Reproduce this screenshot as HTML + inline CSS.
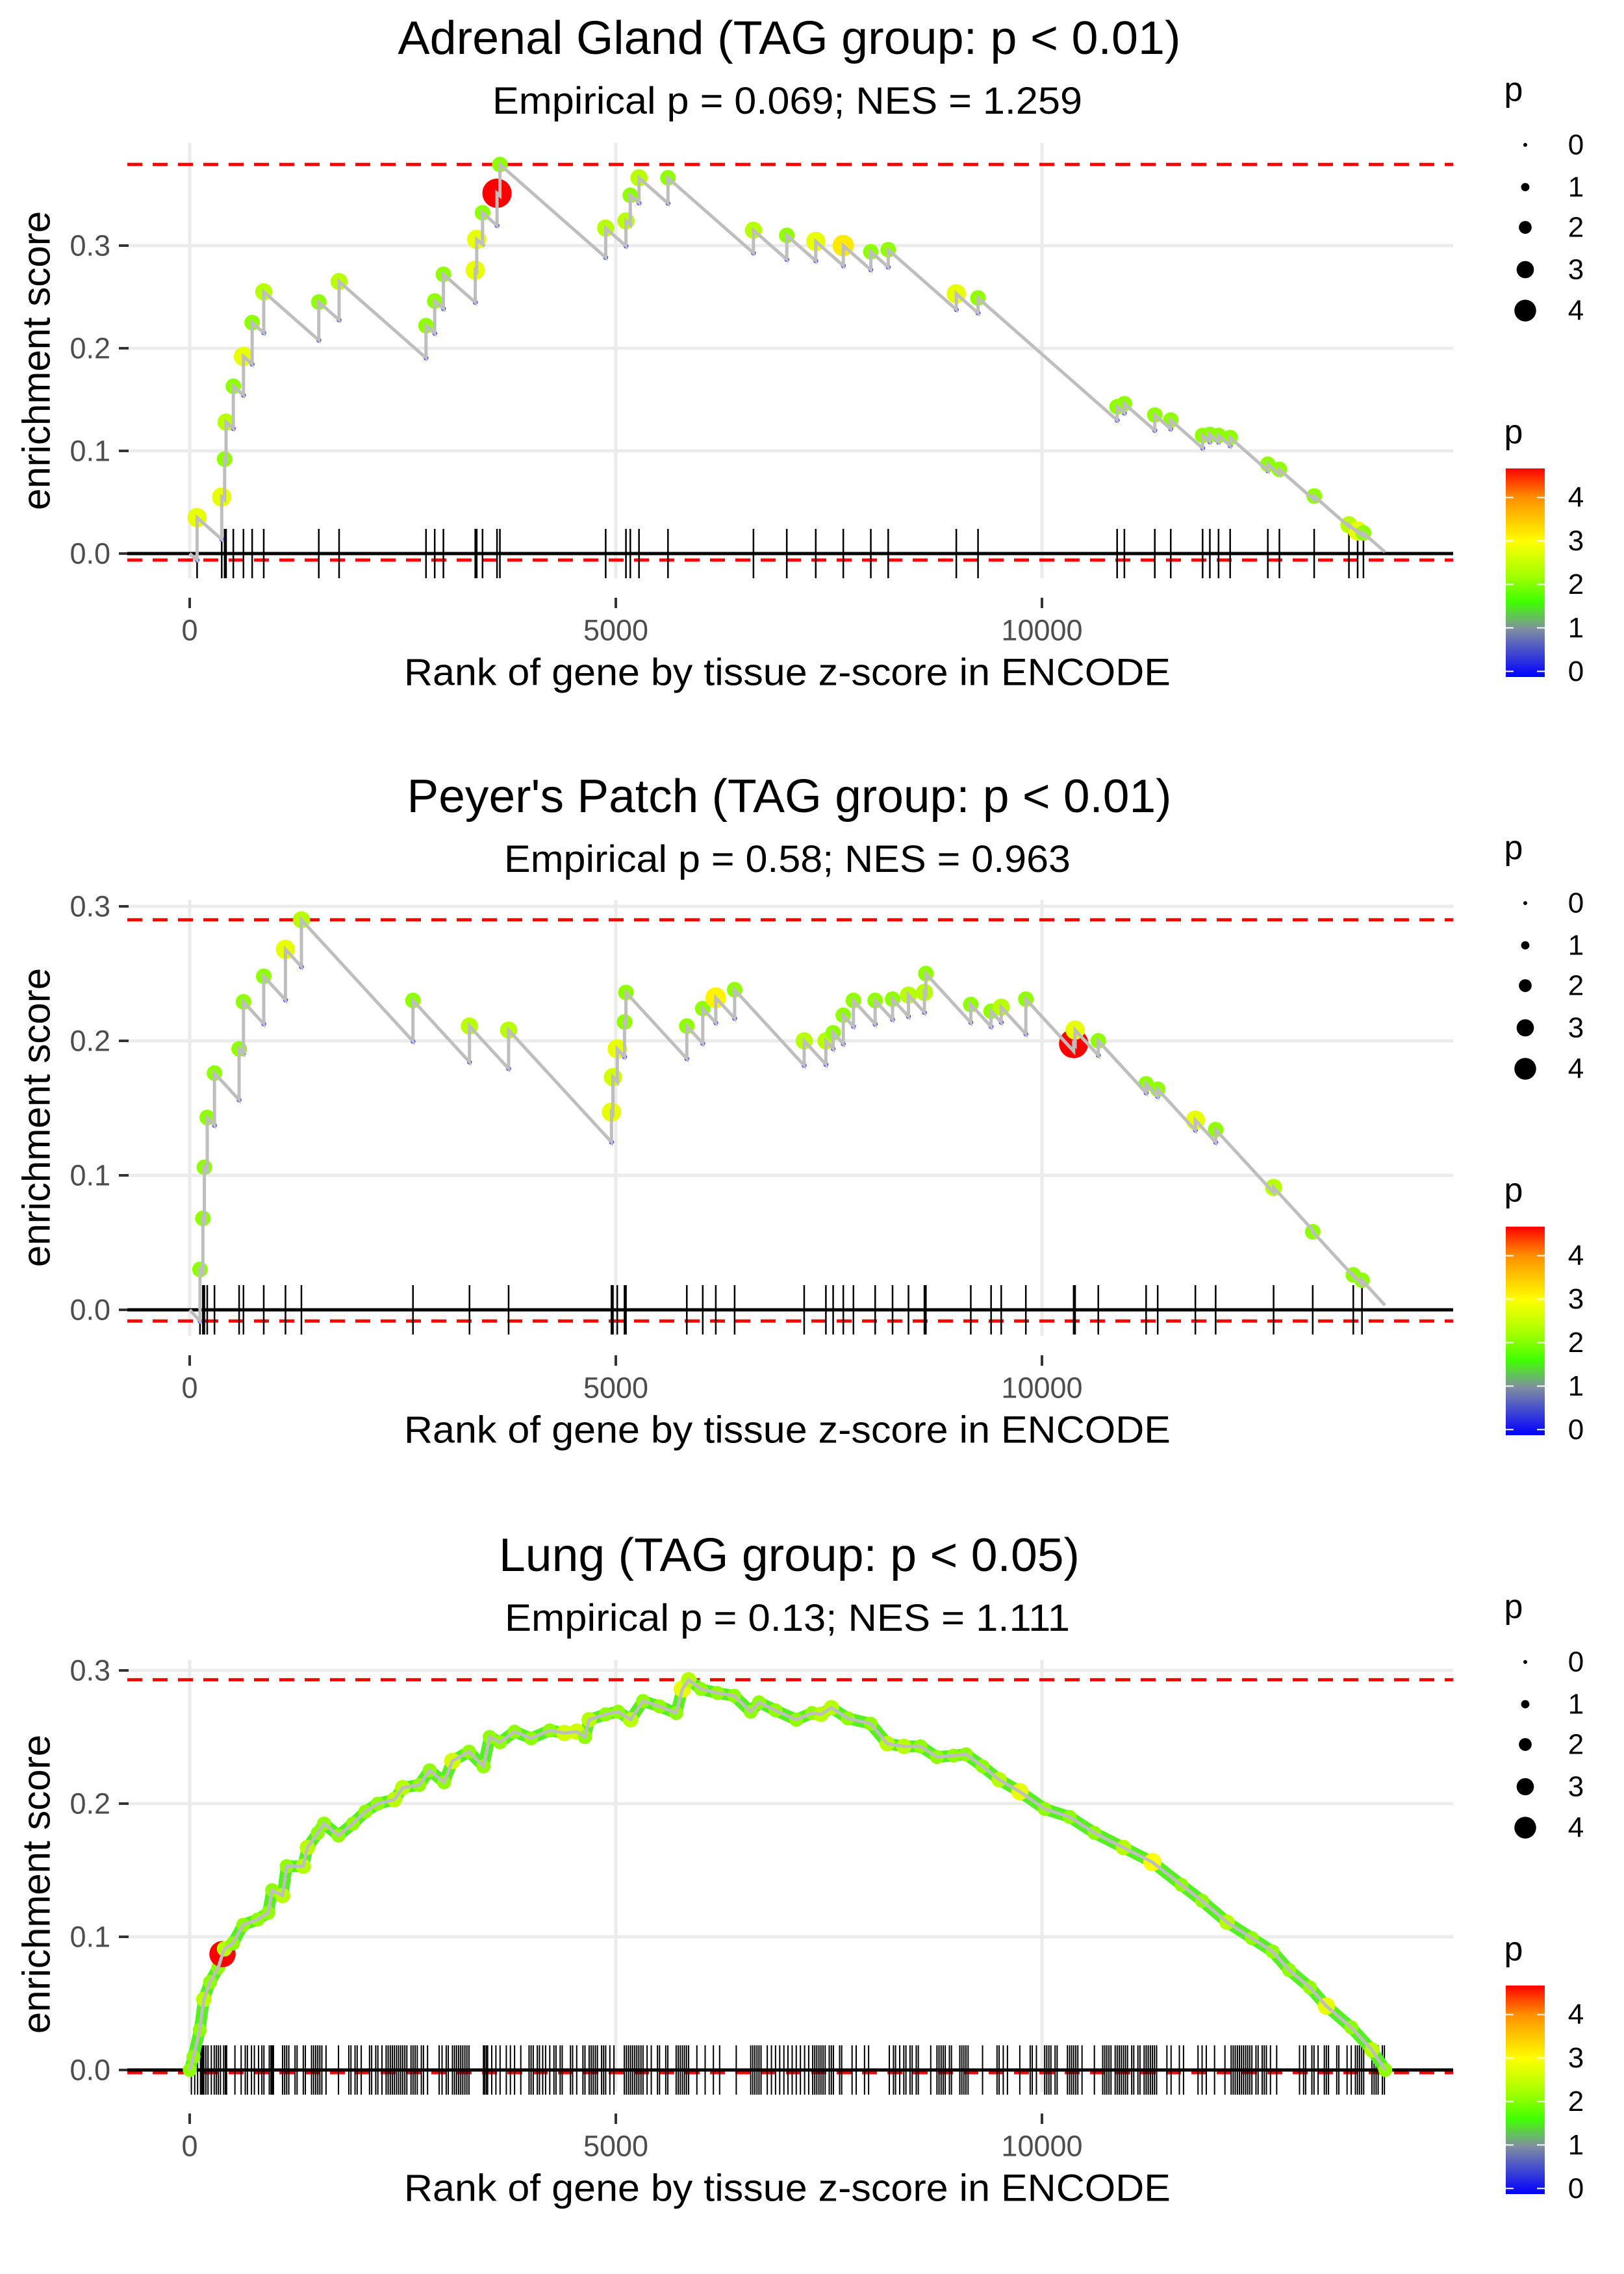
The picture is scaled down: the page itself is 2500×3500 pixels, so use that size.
<!DOCTYPE html>
<html><head><meta charset="utf-8"><style>
html,body{margin:0;padding:0;background:#fff;}
svg{display:block;font-family:"Liberation Sans",sans-serif;}
</style></head><body>
<svg id="chart" xmlns="http://www.w3.org/2000/svg" width="2500" height="3500" viewBox="0 0 2500 3500">
<defs>
<linearGradient id="cbar" x1="0" y1="1" x2="0" y2="0">
<stop offset="0" stop-color="#0000ff"/><stop offset="0.23" stop-color="#7f8f9f"/><stop offset="0.36" stop-color="#40ff00"/><stop offset="0.48" stop-color="#a0ff00"/><stop offset="0.65" stop-color="#ffff00"/><stop offset="0.86" stop-color="#ff9000"/><stop offset="1" stop-color="#ff0000"/>
</linearGradient>
</defs>
</svg>
<script>
// ---- Panel 1: Adrenal Gland ----
const ranks1=[87,376,410,427,512,631,733,869,1515,1753,2773,2875,2977,3351,3368,3436,3606,3640,4881,5119,5170,5272,5612,6615,7006,7346,7669,7992,8196,8995,9250,10882,10967,11324,11511,11885,11970,12072,12208,12650,12786,13194,13602,13704,13772];
const es1=[0.035,0.055,0.092,0.128,0.163,0.192,0.225,0.255,0.245,0.265,0.222,0.246,0.272,0.276,0.306,0.332,0.351,0.379,0.317,0.324,0.349,0.366,0.366,0.315,0.31,0.304,0.3,0.294,0.296,0.253,0.249,0.143,0.146,0.135,0.13,0.115,0.116,0.115,0.113,0.087,0.082,0.056,0.028,0.022,0.02];
const p1=[2.8,2.8,2.1,2.4,2.1,2.8,2.1,2.4,2.1,2.4,2.1,2.1,2.1,2.8,2.8,2.1,4.7,2.1,2.4,2.4,2.1,2.4,2.1,2.4,2.1,2.8,3.2,2.1,2.1,2.8,2.1,2.1,2.1,2.1,2.1,2.1,2.1,2.1,2.1,2.1,2.1,2.1,2.4,2.8,2.1];
// ---- Panel 2: Peyer's Patch ----
const ranks2=[121,155,172,206,291,580,631,869,1124,1311,2620,3283,3742,4949,4966,5017,5102,5119,5833,6020,6173,6394,7210,7465,7550,7669,7788,8043,8247,8434,8621,8638,9165,9403,9522,9811,10372,10389,10661,11222,11358,11800,12038,12718,13177,13653,13755];
const es2=[0.03,0.068,0.106,0.143,0.176,0.194,0.229,0.248,0.268,0.29,0.23,0.211,0.208,0.147,0.173,0.194,0.214,0.236,0.211,0.224,0.232,0.238,0.2,0.2,0.206,0.219,0.23,0.23,0.231,0.234,0.236,0.25,0.227,0.222,0.225,0.231,0.198,0.208,0.2,0.168,0.164,0.141,0.134,0.091,0.058,0.026,0.022];
const p2=[2.1,2.1,2.1,2.1,2.1,2.1,2.1,2.1,2.8,2.4,2.1,2.4,2.4,2.8,2.6,2.8,2.1,2.1,2.1,2.1,3.1,2.1,2.4,2.4,2.1,2.1,2.1,2.1,2.1,2.4,2.4,2.1,2.1,2.1,2.4,2.1,4.7,2.8,2.1,2.1,2.1,2.8,2.1,2.4,2.1,2.1,2.1];
// ---- Panel 3: Lung ----
const curveRanks3=[1,45,118,166,239,336,385,409,506,628,798,920,968,1090,1138,1333,1381,1503,1576,1746,1916,2062,2208,2402,2499,2694,2815,2985,3083,3277,3447,3520,3642,3812,4006,4225,4395,4541,4638,4687,4881,5027,5173,5319,5513,5708,5781,5854,6000,6194,6388,6583,6680,6874,7117,7302,7407,7529,7723,7990,8185,8379,8574,8768,8963,9108,9303,9497,9740,10032,10324,10615,10956,11296,11636,11879,12171,12463,12706,12900,13143,13337,13629,13872,14028];
const curveES3=[0,0.01,0.03,0.053,0.066,0.077,0.087,0.091,0.095,0.109,0.113,0.118,0.135,0.131,0.153,0.153,0.167,0.178,0.185,0.176,0.185,0.194,0.2,0.203,0.212,0.214,0.225,0.216,0.232,0.239,0.228,0.25,0.246,0.254,0.249,0.255,0.253,0.254,0.25,0.263,0.267,0.269,0.263,0.277,0.273,0.268,0.286,0.293,0.286,0.283,0.281,0.269,0.276,0.27,0.263,0.268,0.267,0.272,0.264,0.26,0.245,0.243,0.243,0.235,0.236,0.237,0.228,0.218,0.209,0.196,0.19,0.178,0.167,0.156,0.139,0.127,0.111,0.099,0.089,0.075,0.062,0.048,0.032,0.015,0];
const curveP3=[2.1,2.1,2.1,2.4,2.1,2.1,4.7,2.4,2.1,2.1,2.1,2.1,2.1,2.4,2.1,2.4,2.4,2.1,2.1,2.1,2.1,2.1,2.1,2.4,2.4,2.1,2.1,2.1,2.6,2.1,2.1,2.1,2.1,2.1,2.1,2.1,2.6,2.6,2.1,2.4,2.1,2.1,2.4,2.1,2.1,2.1,2.8,2.4,2.1,2.1,2.1,2.1,2.1,2.1,2.1,2.1,2.4,2.4,2.1,2.1,2.4,2.4,2.1,2.1,2.1,2.1,2.1,2.4,2.8,2.1,2.1,2.1,2.4,3.0,2.1,2.1,2.4,2.1,2.1,2.1,2.1,2.8,2.1,2.4,2.1];
const tickRanks3=[20,59,93,127,142,156,166,190,215,254,288,312,336,361,399,419,433,531,604,652,677,725,759,808,847,871,934,954,968,983,1090,1114,1138,1163,1236,1260,1333,1357,1430,1454,1479,1503,1527,1551,1600,1746,1867,1892,1940,1965,2013,2110,2135,2183,2208,2256,2305,2329,2354,2378,2402,2427,2451,2475,2499,2524,2548,2597,2621,2645,2670,2718,2743,2791,2927,2961,3010,3034,3083,3107,3131,3156,3180,3204,3229,3253,3277,3447,3462,3481,3496,3544,3593,3642,3715,3763,3812,3885,3982,4006,4031,4079,4104,4142,4176,4225,4274,4298,4347,4371,4468,4493,4541,4614,4638,4687,4711,4735,4760,4784,4833,4857,4881,4930,4978,5100,5124,5149,5173,5197,5222,5246,5270,5295,5319,5367,5416,5489,5513,5586,5610,5708,5732,5756,5781,5805,5829,5854,5951,6048,6145,6218,6413,6583,6607,6631,6656,6680,6704,6777,6826,6874,6923,6972,7020,7069,7117,7166,7215,7263,7310,7334,7358,7383,7407,7431,7456,7504,7529,7553,7626,7650,7772,7820,7918,7966,8209,8258,8282,8331,8379,8404,8452,8477,8525,8549,8695,8768,8792,8817,8841,8865,8914,8938,9036,9060,9084,9108,9133,9303,9473,9497,9546,9595,9740,9862,9886,9935,10032,10056,10081,10105,10154,10178,10299,10324,10348,10372,10397,10421,10470,10615,10713,10737,10761,10786,10810,10859,10883,10907,10931,10956,10980,11004,11053,11077,11126,11150,11199,11223,11247,11272,11296,11320,11345,11466,11515,11612,11661,11831,11879,11928,12025,12147,12220,12244,12268,12293,12317,12341,12365,12390,12414,12438,12463,12511,12536,12584,12608,12633,12681,12754,13022,13070,13094,13167,13192,13240,13313,13337,13362,13459,13483,13580,13629,13678,13702,13726,13751,13775,13872,13897,13921,13945,13994,14018];
const xTicks=[0,5000,10000];
const xTickLabels=["0","5000","10000"];
const yTicks=[0,0.1,0.2,0.3];
const yTickLabels=["0.0","0.1","0.2","0.3"];
const legendVals=[0,1,2,3,4];
const titles=["Adrenal Gland (TAG group: p < 0.01)","Peyer's Patch (TAG group: p < 0.01)","Lung (TAG group: p < 0.05)"];
const subtitles=["Empirical p = 0.069; NES = 1.259","Empirical p = 0.58; NES = 0.963","Empirical p = 0.13; NES = 1.111"];
const N=14024;

const svg=document.getElementById('chart');
const NS='http://www.w3.org/2000/svg';
function mk(tag,attrs,parent){const e=document.createElementNS(NS,tag);for(const k in attrs)e.setAttribute(k,attrs[k]);(parent||svg).appendChild(e);return e;}
const X0=196,X1=2237;
function sx(r){return 292+r*0.1312;}
const stops=[[0,[0,0,255]],[1,[127,143,159]],[1.6,[64,255,0]],[2.2,[160,255,0]],[2.7,[221,255,0]],[3,[255,255,0]],[4,[255,144,0]],[4.7,[255,0,0]]];
function col(p){for(let i=1;i<stops.length;i++){if(p<=stops[i][0]){const a=stops[i-1],b=stops[i];const t=(p-a[0])/(b[0]-a[0]);const c=a[1].map((v,j)=>Math.round(v+(b[1][j]-v)*t));return 'rgb('+c.join(',')+')';}}return 'rgb(255,0,0)';}
function rad(p){return 3.5+4.05*p;}

const panels=[
 {y0:852,k:1580,top:220,bot:890,titleY:83,subY:175,xtY:970,xlY:1035,off:0,ytY:555,tw:1205,sw:908},
 {y0:2016,k:2070,top:1385,bot:2056,titleY:1250,subY:1342,xtY:2136,xlY:2201,off:1167,ytY:1720,tw:1177,sw:872},
 {y0:3186,k:2050,top:2555,bot:3220,titleY:2418,subY:2510,xtY:3303,xlY:3368,off:2335,ytY:2900,tw:894,sw:870}
];

function drawFrame(i){
 const P=panels[i];
 const g=mk('g',{});
 
 
 const sy=v=>P.y0-v*P.k;
 yTicks.forEach((v,j)=>{
  const ln=mk('line',{x1:X0,x2:X1,y1:sy(v),y2:sy(v),stroke:'#ebebeb','stroke-width':5},g);
  
  
  const tk=mk('line',{x1:183,x2:198,y1:sy(v),y2:sy(v),stroke:'#333','stroke-width':4},g);
  
  
  const t=mk('text',{x:170,y:sy(v),'text-anchor':'end','dominant-baseline':'central','font-size':45,fill:'#4d4d4d'},g);
  t.textContent=yTickLabels[j];
  
  
 });
 xTicks.forEach((v,j)=>{
  const ln=mk('line',{x1:sx(v),x2:sx(v),y1:P.top,y2:P.bot,stroke:'#ebebeb','stroke-width':5},g);
  
  
  const tk=mk('line',{x1:sx(v),x2:sx(v),y1:P.xtY-50,y2:P.xtY-34,stroke:'#333','stroke-width':4},g);
  
  
  const t=mk('text',{x:sx(v),y:P.xtY,'text-anchor':'middle','dominant-baseline':'central','font-size':45,fill:'#4d4d4d'},g);
  t.textContent=xTickLabels[j];
  
  
 });
 const tt=mk('text',{x:1215,y:P.titleY,'text-anchor':'middle','font-size':72,fill:'#000',textLength:P.tw,lengthAdjust:'spacingAndGlyphs'},g);
 tt.textContent=titles[i];
 
 
 const st=mk('text',{x:1212,y:P.subY,'text-anchor':'middle','font-size':58,fill:'#000',textLength:P.sw,lengthAdjust:'spacingAndGlyphs'},g);
 st.textContent=subtitles[i];
 
 
 const xl=mk('text',{x:1212,y:P.xlY,'text-anchor':'middle','dominant-baseline':'central','font-size':58,fill:'#000',textLength:1180,lengthAdjust:'spacingAndGlyphs'},g);
 xl.textContent='Rank of gene by tissue z-score in ENCODE';
 
 
 const yl=mk('text',{x:0,y:0,'text-anchor':'middle','dominant-baseline':'central','font-size':60,fill:'#000',transform:'translate(56,'+P.ytY+') rotate(-90)'},g);
 yl.textContent='enrichment score';
 
 
 const lg=mk('g',{},g);
 
 
 const pt=mk('text',{x:2330,y:138+P.off,'text-anchor':'middle','dominant-baseline':'central','font-size':52},lg);
 pt.textContent='p';
 
 
 const ly=[223,288,350,415,478];
 legendVals.forEach((v,j)=>{
  const c=mk('circle',{cx:2348,cy:ly[j]+P.off,r:rad(v)*0.85,fill:'#000'},lg);
  
  
  const t=mk('text',{x:2426,y:ly[j]+P.off,'text-anchor':'middle','dominant-baseline':'central','font-size':44},lg);
  t.textContent=String(v);
  
  
 });
 const cg=mk('g',{},g);
 
 
 const ct=mk('text',{x:2330,y:665+P.off,'text-anchor':'middle','dominant-baseline':'central','font-size':52},cg);
 ct.textContent='p';
 
 
 const bar=mk('rect',{x:2318,y:721+P.off,width:60,height:321,fill:'url(#cbar)'},cg);
 
 
 legendVals.forEach(v=>{
  const yy=1042+P.off-(v+0.13)*66.9;
  mk('line',{x1:2318,x2:2330,y1:yy,y2:yy,stroke:'#fff','stroke-width':2},cg);
  mk('line',{x1:2366,x2:2378,y1:yy,y2:yy,stroke:'#fff','stroke-width':2},cg);
  const t=mk('text',{x:2426,y:yy,'text-anchor':'middle','dominant-baseline':'central','font-size':44},cg);
  t.textContent=String(v);
  
  
 });
 return {g,sy};
}

function drawRug(g,sy,ranks,w){
 ranks.forEach(r=>{
  const l=mk('line',{x1:sx(r),x2:sx(r),y1:sy(0)-38,y2:sy(0)+38,stroke:'#000','stroke-width':w},g);
  
  
 });
}
function refLines(g,sy,mx,mn){
 [mx,mn].forEach(v=>{
  const l=mk('line',{x1:X0,x2:X1,y1:sy(v),y2:sy(v),stroke:'#ff0000','stroke-width':5,'stroke-dasharray':'23 16'},g);
  
  
 });
}
function zeroLine(g,sy){
 const l=mk('line',{x1:X0,x2:X1,y1:sy(0),y2:sy(0),stroke:'#000','stroke-width':5},g);
 
 
}

function stepPanel(i,ranks,es,ps,slope){
 const {g,sy}=drawFrame(i);
 let prevR=0,prevE=0,d='M'+sx(0)+','+sy(0);
 const bottoms=[];
 ranks.forEach((r,j)=>{const b=prevE-slope*(r-prevR);bottoms.push(b);d+=' L'+sx(r)+','+sy(b)+' L'+sx(r)+','+sy(es[j]);prevR=r;prevE=es[j];});
 const endE=prevE-slope*(N-prevR);
 d+=' L'+sx(N)+','+sy(endE);
 const mx=Math.max(...es),mn=Math.min(0,...bottoms);
 refLines(g,sy,mx,mn);
 zeroLine(g,sy);
 drawRug(g,sy,ranks,2.5);
 ranks.forEach((r,j)=>{
  const c=mk('circle',{cx:sx(r),cy:sy(bottoms[j]),r:3,fill:'none',stroke:'#3030ff','stroke-width':1.5},g);
  
  
 });
 ranks.forEach((r,j)=>{
  const c=mk('circle',{cx:sx(r),cy:sy(es[j]),r:rad(ps[j]),fill:col(ps[j])},g);
  
  
 });
 const path=mk('path',{d:d,fill:'none',stroke:'#bebebe','stroke-width':5},g);
 
 
}
stepPanel(0,ranks1,es1,p1,7.3e-5);
stepPanel(1,ranks2,es2,p2,6.9e-5);

(function(){
 const {g,sy}=drawFrame(2);
 const mx=Math.max(...curveES3),mn=Math.min(...curveES3);
 refLines(g,sy,mx,mn-0.002);
 zeroLine(g,sy);
 drawRug(g,sy,tickRanks3,2);
 const d=curveRanks3.map((r,j)=>(j?'L':'M')+sx(r)+','+sy(curveES3[j])).join(' ');
 const halo=mk('path',{d:d,fill:'none',stroke:'#55f020','stroke-width':18,'stroke-linejoin':'round','stroke-linecap':'round'},g);
 
 
 curveRanks3.forEach((r,j)=>{
  const c=mk('circle',{cx:sx(r),cy:sy(curveES3[j]),r:rad(curveP3[j])*0.9,fill:col(curveP3[j])},g);
  
  
 });
 const path=mk('path',{d:d,fill:'none',stroke:'#bebebe','stroke-width':5},g);
 
 
})();
</script>
</body></html>
